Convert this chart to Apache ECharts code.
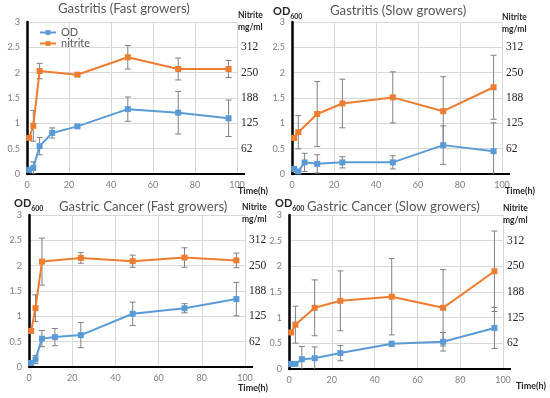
<!DOCTYPE html>
<html><head><meta charset="utf-8">
<script src="https://cdn.jsdelivr.net/npm/echarts@6/dist/echarts.min.js"></script>
<style>html,body{margin:0;padding:0;background:#fff}#c{width:550px;height:398px}</style>
</head><body><div id="c"></div>
<script>
// ---------------- data ----------------
const panelTitles = ['Gastritis (Fast growers)', 'Gastritis (Slow growers)', 'Gastric Cancer (Fast growers)', 'Gastric Cancer (Slow growers)'];
const timesOD = [1, 3, 6, 12, 24, 48, 72, 96];
const timesNitFast = [1, 3, 6, 24, 48, 72, 96];
const timesNitSlow = [1, 3, 12, 24, 48, 72, 96];

// OD600 mean and error
const odGF = [0.08, 0.12, 0.55, 0.81, 0.94, 1.28, 1.21, 1.10];
const odGFErr = [0.02, 0.12, 0.17, 0.10, 0.02, 0.24, 0.42, 0.36];
const odGS = [0.10, 0.05, 0.23, 0.20, 0.23, 0.23, 0.57, 0.45];
const odGSErr = [0.02, 0.03, 0.18, 0.18, 0.11, 0.13, 0.38, 0.56];
const odCF = [0.08, 0.15, 0.56, 0.59, 0.63, 1.05, 1.16, 1.34];
const odCFErr = [0.02, 0.08, 0.16, 0.17, 0.25, 0.23, 0.09, 0.33];
const odCS = [0.10, 0.10, 0.19, 0.21, 0.31, 0.49, 0.53, 0.80];
const odCSErr = [0.02, 0.02, 0.25, 0.22, 0.15, 0.05, 0.18, 0.40];

// Nitrite (mg/ml) mean and error
const nitGF = [89, 119, 254, 245, 288, 259, 259];
const nitGFErr = [2, 38, 19, 4, 29, 27, 21];
const nitGS = [89, 103, 148, 174, 189, 155, 214];
const nitGSErr = [2, 41, 80, 60, 63, 85, 79];
const nitCF = [89, 145, 260, 269, 261, 270, 263];
const nitCFErr = [2, 33, 58, 13, 15, 24, 18];
const nitCS = [89, 108, 149, 166, 176, 149, 238];
const nitCSErr = [2, 45, 68, 73, 93, 93, 98];

const rightTickLabels = ['', '62', '125', '188', '250', '312', ''];
const legendNames = ['OD', 'nitrite'];

// ---------------- layout ----------------
const grids = [
  {left: 27, top: 22, width: 210, height: 152},
  {left: 292, top: 22, width: 210, height: 152},
  {left: 29, top: 215, width: 216, height: 152},
  {left: 289, top: 215, width: 214, height: 154}
];
const titlePos = [[58, 2], [330, 4], [59, 200], [307, 200]];
const nitHeadPos = [[238, 9], [502, 11], [242, 201], [503, 202]];
const timePos = [[238, 187], [505, 187], [238, 384], [516, 382]];
const odLabelPos = [null, [273, 6], [14, 198], [275, 198]];

const BLUE = '#5B9BD5', ORANGE = '#ED7D31';
const panels = [
  {od: odGF, odErr: odGFErr, nt: timesNitFast, nit: nitGF, nitErr: nitGFErr},
  {od: odGS, odErr: odGSErr, nt: timesNitSlow, nit: nitGS, nitErr: nitGSErr},
  {od: odCF, odErr: odCFErr, nt: timesNitFast, nit: nitCF, nitErr: nitCFErr},
  {od: odCS, odErr: odCSErr, nt: timesNitSlow, nit: nitCS, nitErr: nitCSErr}
];

function errRender(params, api) {
  const x = api.value(0), lo = api.value(1), hi = api.value(2);
  const a = api.coord([x, lo]), b = api.coord([x, hi]);
  const w = 3;
  const style = {stroke: '#808080', lineWidth: 1, fill: null};
  return {type: 'group', children: [
    {type: 'line', shape: {x1: a[0], y1: a[1], x2: b[0], y2: b[1]}, style: style},
    {type: 'line', shape: {x1: a[0] - w, y1: a[1], x2: a[0] + w, y2: a[1]}, style: style},
    {type: 'line', shape: {x1: b[0] - w, y1: b[1], x2: b[0] + w, y2: b[1]}, style: style}
  ]};
}

const xAxes = [], yAxes = [], series = [], titles = [];
grids.forEach(function (g, i) {
  xAxes.push({
    gridIndex: i, type: 'value', min: 0, max: 100, interval: 20,
    axisLine: {show: true, onZero: false, lineStyle: {color: '#000', width: 2}, symbol: ['none', 'rect'], symbolSize: [2, 16], symbolOffset: [0, 0]},
    axisTick: {show: false},
    axisLabel: {color: '#808080', fontSize: 9, fontFamily: 'Lato', margin: 7},
    splitLine: {show: true, lineStyle: {color: '#d9d9d9', width: 1}}
  });
  yAxes.push({
    gridIndex: i, type: 'value', min: 0, max: 3, interval: 0.5, position: 'left',
    axisLine: {show: true, lineStyle: {color: '#000', width: 2.5}},
    axisTick: {show: false},
    axisLabel: {color: '#808080', fontSize: 9, fontFamily: 'Lato', margin: 7},
    splitLine: {show: true, lineStyle: {color: '#d9d9d9', width: 1}}
  });
  yAxes.push({
    gridIndex: i, type: 'value', min: 0, max: 375, interval: 62.5, position: 'right',
    axisLine: {show: false}, axisTick: {show: false}, splitLine: {show: false},
    axisLabel: {color: '#262626', fontSize: 11.5, fontFamily: 'Liberation Serif', margin: 4,
      formatter: function (v) { return rightTickLabels[Math.round(v / 62.5)] || ''; }}
  });
  const p = panels[i];
  const odErrData = timesOD.map(function (t, k) { return [t, p.od[k] - p.odErr[k], p.od[k] + p.odErr[k]]; });
  const nitErrData = p.nt.map(function (t, k) { return [t, p.nit[k] - p.nitErr[k], p.nit[k] + p.nitErr[k]]; });
  series.push({type: 'custom', xAxisIndex: i, yAxisIndex: 2 * i, renderItem: errRender, data: odErrData, clip: true, z: 1, silent: true, encode: {x: 0, y: [1, 2]}});
  series.push({type: 'custom', xAxisIndex: i, yAxisIndex: 2 * i + 1, renderItem: errRender, data: nitErrData, clip: true, z: 1, silent: true, encode: {x: 0, y: [1, 2]}});
  series.push({name: legendNames[0], type: 'line', xAxisIndex: i, yAxisIndex: 2 * i, z: 3,
    data: timesOD.map(function (t, k) { return [t, p.od[k]]; }),
    symbol: 'rect', symbolSize: 6, lineStyle: {color: BLUE, width: 2}, itemStyle: {color: BLUE}});
  series.push({name: legendNames[1], type: 'line', xAxisIndex: i, yAxisIndex: 2 * i + 1, z: 3,
    data: p.nt.map(function (t, k) { return [t, p.nit[k]]; }),
    symbol: 'rect', symbolSize: 6, lineStyle: {color: ORANGE, width: 2}, itemStyle: {color: ORANGE}});

  titles.push({text: panelTitles[i], left: titlePos[i][0], top: titlePos[i][1], padding: 0,
    textStyle: {fontFamily: 'Lato', fontSize: 13.2, fontWeight: 'normal', color: '#595959'}});
  titles.push({text: 'Nitrite\nmg/ml', left: nitHeadPos[i][0], top: nitHeadPos[i][1], padding: 0,
    textStyle: {fontFamily: 'Lato', fontSize: 8.5, fontWeight: 'bold', color: '#262626', lineHeight: 12}});
  titles.push({text: 'Time(h)', left: timePos[i][0], top: timePos[i][1], padding: 0,
    textStyle: {fontFamily: 'Lato', fontSize: 9, fontWeight: 'bold', color: '#262626'}});
  if (odLabelPos[i]) {
    titles.push({text: '{a|OD}{b|600}', left: odLabelPos[i][0], top: odLabelPos[i][1], padding: 0,
      textStyle: {rich: {
        a: {fontFamily: 'Lato', fontSize: 11, color: '#262626', lineHeight: 14, verticalAlign: 'top'},
        b: {fontFamily: 'Lato', fontSize: 7, color: '#262626', lineHeight: 14, verticalAlign: 'bottom', padding: [6, 0, 0, 0]}
      }}});
  }
});

const chart = echarts.init(document.getElementById('c'), null, {renderer: 'canvas'});
chart.setOption({
  animation: false,
  backgroundColor: '#fff',
  title: titles,
  legend: {data: legendNames, orient: 'vertical', left: 34, top: 22, itemGap: 0, itemWidth: 16, itemHeight: 6,
    textStyle: {fontFamily: 'Lato', fontSize: 11, color: '#595959'}},
  grid: grids,
  xAxis: xAxes,
  yAxis: yAxes,
  series: series
});
</script>
</body></html>
